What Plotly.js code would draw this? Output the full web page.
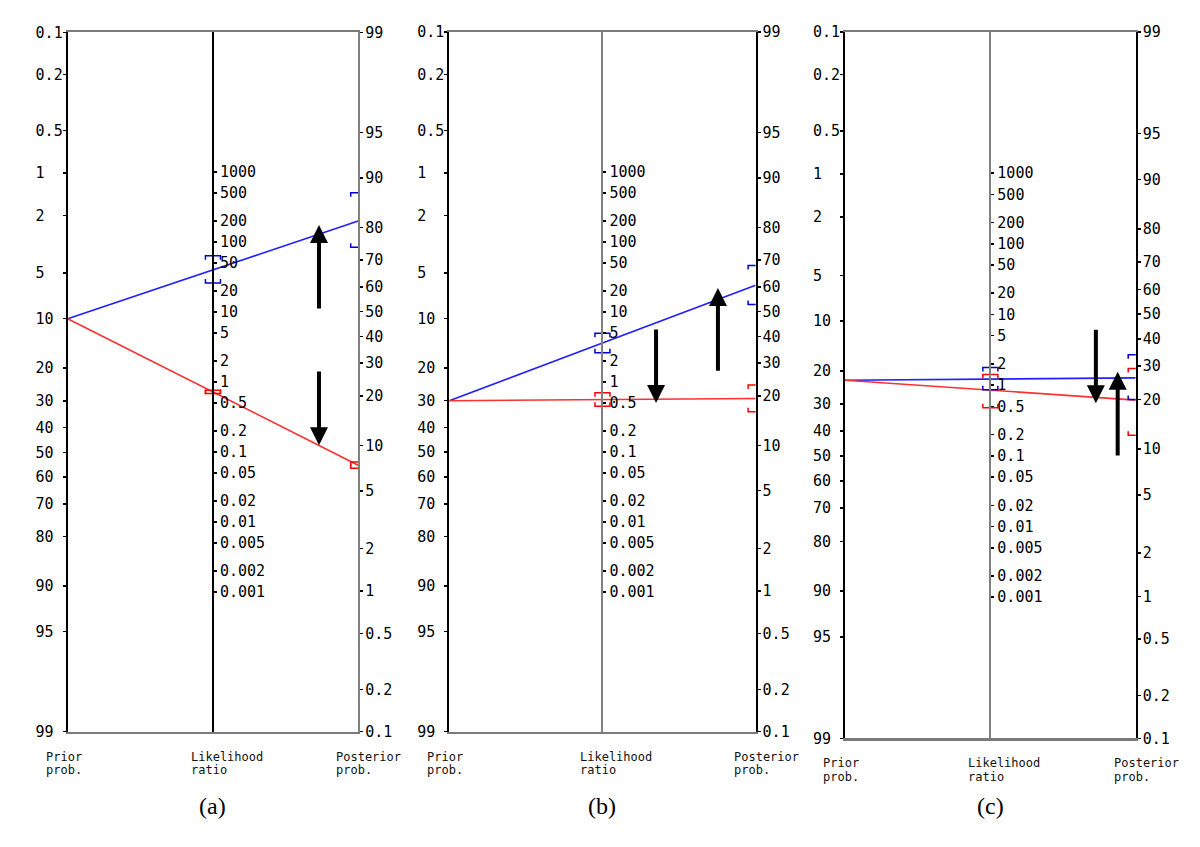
<!DOCTYPE html>
<html><head><meta charset="utf-8">
<script src="https://cdn.plot.ly/plotly-3.0.1.min.js"></script>
<style>html,body{margin:0;padding:0;background:#fff}#chart{width:1200px;height:847px}</style>
</head><body><div id="chart"></div>
<script>
// ---------- data ----------
const panelLabels = ['(a)', '(b)', '(c)'];
const priorTicks = [0.1, 0.2, 0.5, 1, 2, 5, 10, 20, 30, 40, 50, 60, 70, 80, 90, 95, 99];
const priorTickText = ['0.1', '0.2', '0.5', '1', '2', '5', '10', '20', '30', '40', '50', '60', '70', '80', '90', '95', '99'];
const posteriorTicks = [99, 95, 90, 80, 70, 60, 50, 40, 30, 20, 10, 5, 2, 1, 0.5, 0.2, 0.1];
const posteriorTickText = ['99', '95', '90', '80', '70', '60', '50', '40', '30', '20', '10', '5', '2', '1', '0.5', '0.2', '0.1'];
const lrTicks = [1000, 500, 200, 100, 50, 20, 10, 5, 2, 1, 0.5, 0.2, 0.1, 0.05, 0.02, 0.01, 0.005, 0.002, 0.001];
const lrTickText = ['1000', '500', '200', '100', '50', '20', '10', '5', '2', '1', '0.5', '0.2', '0.1', '0.05', '0.02', '0.01', '0.005', '0.002', '0.001'];
const axisTitles = [['Prior', 'prob.'], ['Likelihood', 'ratio'], ['Posterior', 'prob.']];

const priorProb = [10, 30, 22.5];            // %
const lrPositive = [40, 3.6, 1.22];
const lrPositiveLow = [26, 2.62, 0.86];
const lrPositiveHigh = [63.6, 4.98, 1.78];
const lrNegative = [0.72, 0.56, 0.85];
const lrNegativeLow = [0.685, 0.45, 0.48];
const lrNegativeHigh = [0.76, 0.70, 1.42];
// black arrows, in posterior-probability % (start -> end)
const arrowFromPost = [[50.7, 27.7], [43.3, 27.0], [44.3, 8.9]];
const arrowToPost = [[80.6, 10.0], [18.2, 59.6], [19.0, 28.1]];

// ---------- geometry / style ----------
const W = 1200, H = 847;
const geom = [
  {l: 67.7, r: 358.2, t: 32.3, b: 731.7, arrowX: [0.865, 0.865], cl: '#000', cm: '#000', cr: '#808080'},
  {l: 449.3, r: 755.6, t: 32.2, b: 731.7, arrowX: [0.675, 0.877], cl: '#000', cm: '#808080', cr: '#000'},
  {l: 845.0, r: 1135.7, t: 32.0, b: 738.3, arrowX: [0.863, 0.938], cl: '#000', cm: '#808080', cr: '#000'}
];
const BLUE = '#1f1fff', RED = '#ff3030', BLUE_CI = '#0000d0', RED_CI = '#ff0000';
const MONO = 'DejaVu Sans Mono';

const logit = p => Math.log(p / (100 - p));
const TOP = logit(99), BOT = logit(0.1);
const V = TOP - BOT;
const vPrior = p => logit(p) - BOT;
const vPost = p => TOP - logit(p);
const vLR = lr => (V - Math.log(lr)) / 2;
const postFrom = (prior, lr) => { const o = Math.exp(logit(prior)) * lr; return 100 * o / (1 + o); };
const pad3 = s => s + '\u00A0'.repeat(Math.max(0, 3 - s.length));

const traces = [], annotations = [], layout = {
  width: W, height: H, margin: {l: 0, r: 0, t: 0, b: 0},
  paper_bgcolor: '#fff', plot_bgcolor: 'rgba(0,0,0,0)', showlegend: false
};

geom.forEach((g, i) => {
  const xId = i === 0 ? '' : String(i + 1);
  const nL = 3 * i + 1, nR = 3 * i + 2, nM = 3 * i + 3;
  const yName = n => n === 1 ? 'yaxis' : 'yaxis' + n;
  const yRef = n => n === 1 ? 'y' : 'y' + n;
  const xRef = 'x' + xId;
  const yDom = [1 - g.b / H, 1 - g.t / H];
  const common = {range: [V, 0], showgrid: false, zeroline: false, fixedrange: true,
    ticks: 'outside', ticklen: 3, tickwidth: 1.5, tickcolor: '#000',
    tickfont: {family: MONO, size: 15, color: '#000'}, tickmode: 'array', showline: true, linewidth: 2};

  layout['xaxis' + xId] = {domain: [g.l / W, g.r / W], range: [0, 1], anchor: yRef(nL),
    showline: true, mirror: true, linecolor: '#7a7a7a', linewidth: 2.5,
    ticks: '', showticklabels: false, showgrid: false, zeroline: false, fixedrange: true};
  layout[yName(nL)] = Object.assign({}, common, {domain: yDom, anchor: xRef, side: 'left',
    linecolor: g.cl, tickvals: priorTicks.map(vPrior), ticktext: priorTickText.map(pad3), ticklabelstandoff: -3});
  layout[yName(nR)] = Object.assign({}, common, {domain: yDom, anchor: xRef, side: 'right', overlaying: yRef(nL),
    linecolor: g.cr, tickvals: posteriorTicks.map(vPost), ticktext: posteriorTickText, ticklabelstandoff: -1});
  layout[yName(nM)] = Object.assign({}, common, {domain: yDom, anchor: 'free', position: (g.l + g.r) / 2 / W,
    side: 'right', overlaying: yRef(nL),
    linecolor: g.cm, tickvals: lrTicks.map(vLR), ticktext: lrTickText, ticklabelstandoff: 0});

  // invisible anchors so the overlaying axes are drawn
  [nR, nM].forEach(n => traces.push({type: 'scatter', mode: 'markers', x: [0.5], y: [V / 2],
    xaxis: xRef, yaxis: yRef(n), marker: {opacity: 0}, hoverinfo: 'skip'}));

  const prior = priorProb[i];
  const hw = 7.5 / (g.r - g.l);
  const tk = 4 / ((g.b - g.t) / V);
  const bracket = (xs, lows, highs, color) => {
    const bx = [], by = [];
    [[lows, -1], [highs, 1]].forEach(([vals, dir]) => {
      vals.forEach((lr, k) => {
        const v = k === 0 ? vLR(lr) : vPost(postFrom(prior, lr));
        const xc = xs[k];
        bx.push(xc - hw, xc - hw, xc + hw, xc + hw, null);
        by.push(v + dir * tk, v, v, v + dir * tk, null);
      });
    });
    traces.push({type: 'scatter', mode: 'lines', x: bx, y: by, xaxis: xRef, yaxis: yRef(nL),
      line: {color: color, width: 1.5}, hoverinfo: 'skip', cliponaxis: false});
  };
  // blue: positive LR
  traces.push({type: 'scatter', mode: 'lines', x: [0, 1],
    y: [vPrior(prior), vPost(postFrom(prior, lrPositive[i]))], xaxis: xRef, yaxis: yRef(nL),
    line: {color: BLUE, width: 1.6}, hoverinfo: 'skip'});
  // red: negative LR
  traces.push({type: 'scatter', mode: 'lines', x: [0, 1],
    y: [vPrior(prior), vPost(postFrom(prior, lrNegative[i]))], xaxis: xRef, yaxis: yRef(nL),
    line: {color: RED, width: 1.6}, hoverinfo: 'skip'});
  bracket([0.5, 1], [lrPositiveLow[i], lrPositiveLow[i]], [lrPositiveHigh[i], lrPositiveHigh[i]], BLUE_CI);
  bracket([0.5, 1], [lrNegativeLow[i], lrNegativeLow[i]], [lrNegativeHigh[i], lrNegativeHigh[i]], RED_CI);

  // arrows
  arrowFromPost[i].forEach((from, k) => {
    annotations.push({xref: xRef, yref: yRef(nL), axref: xRef, ayref: yRef(nL),
      x: g.arrowX[k], y: vPost(arrowToPost[i][k]), ax: g.arrowX[k], ay: vPost(from),
      text: '', showarrow: true, arrowhead: 2, arrowsize: 0.9, arrowwidth: 4, arrowcolor: '#000', standoff: 0});
  });
  // axis names under the chart
  axisTitles.forEach((lines, k) => {
    lines.forEach((t, j) => {
      annotations.push({xref: xRef, yref: yRef(nL) + ' domain', x: k * 0.5, y: 0, xanchor: 'left', yanchor: 'middle',
        xshift: -24, yshift: j === 0 ? -25 : -38.3, text: t, showarrow: false,
        font: {family: MONO, size: 12, color: '#111'}});
    });
  });
  annotations.push({xref: xRef, yref: 'paper', x: 0.5, y: 1 - 806 / H, xanchor: 'center', yanchor: 'middle',
    text: panelLabels[i], showarrow: false, font: {family: 'Liberation Serif', size: 24, color: '#000'}});
});
layout.annotations = annotations;
Plotly.newPlot('chart', traces, layout, {displayModeBar: false, staticPlot: true});
</script>
</body></html>
